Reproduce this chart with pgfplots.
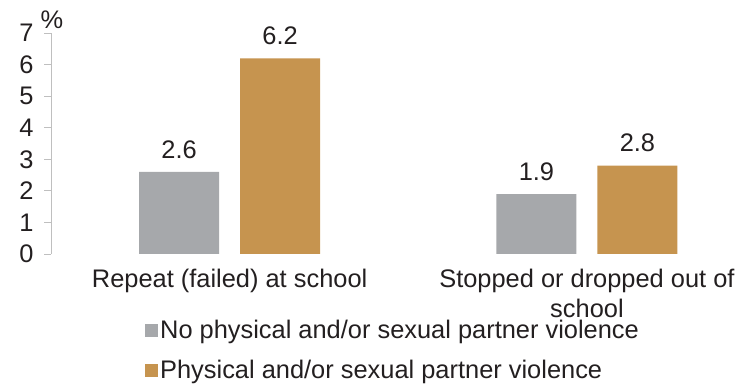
\documentclass[border=0pt]{standalone}
\usepackage{pgfplots}
\pgfplotsset{compat=1.18}
\usepackage{fontspec}
\setmainfont{Liberation Sans}
\definecolor{cgrey}{HTML}{A6A8AB}
\definecolor{ctan}{HTML}{C6944F}
\definecolor{ctxt}{HTML}{231F20}
\definecolor{caxis}{HTML}{BFBFBF}
\begin{document}
\begin{tikzpicture}
\useasboundingbox (0,0) rectangle (737bp,386bp);
\begin{axis}[
  at={(51bp,132bp)}, anchor=south west,
  scale only axis, width=686bp, height=221bp,
  ybar=21bp, bar width=80bp,
  xmin=-0.5, xmax=1.42, ymin=0, ymax=7,
  xtick=data, xticklabels={Repeat (failed) at school,{Stopped or dropped out of\\school}},
  xtick style={draw=none},
  ytick={0,1,2,3,4,5,6,7},
  axis lines*=left,
  x axis line style={draw=none},
  y axis line style={draw=caxis, line width=0.8pt},
  ytick style={draw=caxis, line width=0.8pt},
  tick align=outside, major tick length=7bp,
  ytick pos=left, xtick pos=bottom,
  font=\fontsize{25.5}{29}\selectfont,
  /pgf/number format/assume math mode=true,
  yticklabel style={text=ctxt, xshift=-7bp},
  xticklabel style={text=ctxt, align=center, yshift=-5bp, font=\fontsize{25.5}{30}\selectfont},
  ylabel={\%}, ylabel style={rotate=-90, at={(axis description cs:0,1)}, anchor=south, inner sep=2bp, text=ctxt, xshift=1bp, yshift=2bp},
  nodes near coords, every node near coord/.append style={text=ctxt, font=\fontsize{25.5}{29}\selectfont, /pgf/number format/fixed zerofill, /pgf/number format/precision=1, yshift=10bp},
  legend style={at={(axis description cs:0.137,-0.29)}, anchor=north west, draw=none, fill=none, font=\fontsize{25.5}{29}\selectfont, text=ctxt, row sep=16bp, inner sep=0pt, /tikz/every even column/.append style={column sep=8bp}},
  legend cell align=left,
  legend image code/.code={\fill[#1] (0bp,-7bp) rectangle (13bp,6bp);},
]
\addplot[fill=cgrey, draw=none] coordinates {(0,2.6) (1,1.9)};
\addplot[fill=ctan, draw=none] coordinates {(0,6.2) (1,2.8)};
\legend{No physical and/or sexual partner violence, Physical and/or sexual partner violence}
\end{axis}
\end{tikzpicture}
\end{document}
